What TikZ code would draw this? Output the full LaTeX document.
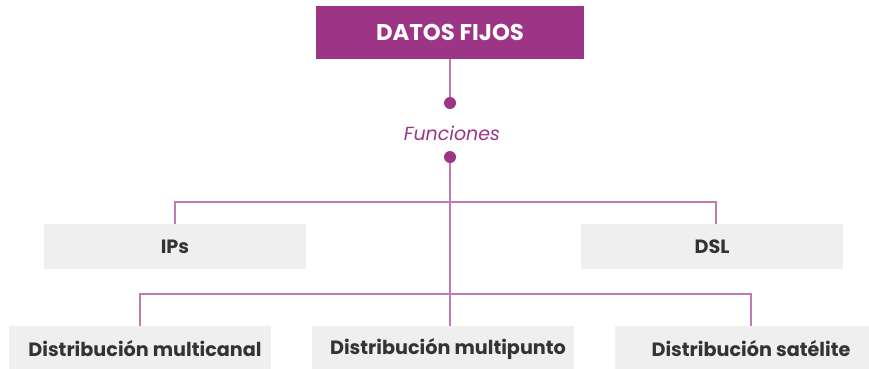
\documentclass[tikz,border=0pt]{standalone}
\usepackage{fontspec}
\setmainfont{Poppins}
\definecolor{mag}{HTML}{9C3585}
\definecolor{lin}{HTML}{C27AB5}
\definecolor{boxg}{HTML}{EFEFEF}
\definecolor{txt}{HTML}{333333}
\tikzset{
  gbox/.style={fill=boxg, draw=none, minimum width=262pt, minimum height=45pt, inner sep=0pt, text=txt, font=\fontsize{19.2}{22}\selectfont\bfseries},
  conn/.style={draw=lin, line width=1.5pt},
  dotc/.style={circle, fill=mag, minimum size=12pt, inner sep=0pt}
}
\begin{document}
\begin{tikzpicture}[x=1pt,y=-1pt]
\useasboundingbox (0,0) rectangle (869,368);
\node[fill=mag, minimum width=268pt, minimum height=53pt, inner sep=0pt, text=white, font=\fontsize{22.8}{26}\selectfont\bfseries] (top) at (450,32.5) {DATOS FIJOS};
\node[dotc] (d1) at (450,103) {};
\node[text=mag, font=\fontsize{19}{22}\selectfont\itshape] (fun) at (452,133) {Funciones};
\node[dotc] (d2) at (450,157) {};
\node[gbox] (ips) at (175,246.5) {IPs};
\node[gbox] (dsl) at (712,246.5) {DSL};
\node[gbox, minimum height=46pt] (mc) at (140,349) {\hspace*{10pt}Distribución multicanal};
\node[gbox, minimum height=46pt] (mp) at (443,349) {\hspace*{10pt}Distribución multipunto};
\node[gbox, minimum height=46pt, minimum width=268pt] (sat) at (749,349) {\hspace*{4pt}Distribución satélite};
\draw[conn] (top.south) -- (d1);
\draw[conn] (d2) -- (d2 |- mp.north);
\draw[conn] (ips.north -| 175,0) -- (175,202) -- (716,202) -- (dsl.north -| 716,0);
\draw[conn] (mc.north) -- (140,294) -- (751,294) -- (sat.north -| 751,0);
\end{tikzpicture}
\end{document}
